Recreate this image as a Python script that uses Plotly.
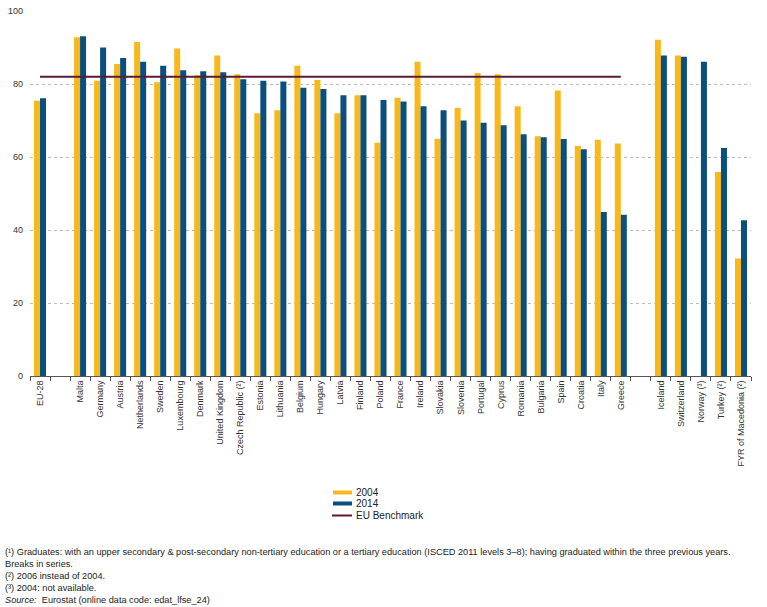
import plotly.graph_objects as go

categories = ["EU-28", " ", "Malta", "Germany", "Austria", "Netherlands", "Sweden", "Luxembourg",
              "Denmark", "United Kingdom", "Czech Republic (²)", "Estonia", "Lithuania", "Belgium",
              "Hungary", "Latvia", "Finland", "Poland", "France", "Ireland", "Slovakia", "Slovenia",
              "Portugal", "Cyprus", "Romania", "Bulgaria", "Spain", "Croatia", "Italy", "Greece",
              "  ", "Iceland", "Switzerland", "Norway (³)", "Turkey (²)", "FYR of Macedonia (²)"]

values_2004 = [75.4, None, 92.8, 80.9, 85.5, 91.5, 80.5, 89.7, 82.4, 87.8, 82.7, 72.0, 72.8, 85.0,
               81.1, 72.0, 76.9, 63.9, 76.2, 86.1, 65.0, 73.4, 83.0, 82.7, 73.9, 65.7, 78.2, 63.0,
               64.7, 63.7, None, 92.1, 87.8, None, 55.9, 32.2]

values_2014 = [76.1, None, 93.1, 90.0, 87.1, 86.1, 85.0, 83.8, 83.5, 83.2, 81.3, 80.9, 80.7, 79.0,
               78.6, 76.9, 76.9, 75.6, 75.2, 73.9, 72.8, 70.0, 69.4, 68.7, 66.2, 65.4, 64.9, 62.1,
               44.9, 44.2, None, 87.8, 87.5, 86.1, 62.5, 42.7]

benchmark_x = ["EU-28", "Greece"]
benchmark_y = [82, 82]

y_ticks = [0, 20, 40, 60, 80, 100]

legend_labels = ["2004", "2014", "EU Benchmark"]

footnotes = [
    "(¹) Graduates: with an upper secondary &amp; post-secondary non-tertiary education or a tertiary education (ISCED 2011 levels 3–8); having graduated within the three previous years.",
    "Breaks in series.",
    "(²) 2006 instead of 2004.",
    "(³) 2004: not available.",
    "<i>Source:</i>  Eurostat (online data code: edat_lfse_24)",
]

YELLOW = "#F9B81A"
BLUE = "#0B4F7E"
MAROON = "#5B1B36"
FONT = "Liberation Sans, Arial, sans-serif"

# plot area in pixels
PL, PR, PT, PB = 30, 751, 11, 376
W, H = 767, 607


def px_x(px):
    return (px - PL) / (PR - PL)


def px_y(py):
    return (PB - py) / (PB - PT)


fig = go.Figure()
fig.add_trace(go.Bar(x=categories, y=values_2004, name=legend_labels[0],
                     marker=dict(color=YELLOW, line=dict(width=0)), showlegend=False))
fig.add_trace(go.Bar(x=categories, y=values_2014, name=legend_labels[1],
                     marker=dict(color=BLUE, line=dict(width=0)), showlegend=False))
fig.add_trace(go.Scatter(x=benchmark_x, y=benchmark_y, name=legend_labels[2], mode="lines",
                         line=dict(color=MAROON, width=2), showlegend=False))

fig.update_layout(
    width=W, height=H,
    margin=dict(l=PL, r=W - PR, t=PT, b=H - PB, autoexpand=False),
    paper_bgcolor="white", plot_bgcolor="white",
    barmode="group", bargap=0.4, bargroupgap=0,
    font=dict(family=FONT, size=9, color="#333333"),
    showlegend=False,
    xaxis=dict(type="category", categoryorder="array", categoryarray=categories,
               tickangle=-90, tickson="boundaries", ticks="outside", ticklen=4,
               tickcolor="#555555", showline=True, linecolor="#555555", linewidth=1,
               showgrid=False, tickfont=dict(size=9, color="#333333"), automargin=False,
               range=[-0.5, len(categories) - 0.5]),
    yaxis=dict(range=[0, 100], tickvals=y_ticks, showgrid=True, gridcolor="#BBBBBB",
               griddash="dot", gridwidth=1, zeroline=False, showline=False, automargin=False,
               tickfont=dict(size=9, color="#333333"), ticks="", ticklabelstandoff=6),
)

# custom legend
leg_rows = [492.5, 503.5, 515.5]
sw_x0, sw_x1, text_x = 333, 352, 354
for i, (lab, col) in enumerate(zip(legend_labels, [YELLOW, BLUE, MAROON])):
    yc = leg_rows[i]
    if i < 2:
        fig.add_shape(type="rect", xref="paper", yref="paper",
                      x0=px_x(sw_x0), x1=px_x(sw_x1), y0=px_y(yc - 2), y1=px_y(yc + 2),
                      fillcolor=col, line=dict(width=0))
    else:
        fig.add_shape(type="line", xref="paper", yref="paper",
                      x0=px_x(sw_x0 - 1), x1=px_x(sw_x1), y0=px_y(yc), y1=px_y(yc),
                      line=dict(color=col, width=2))
    fig.add_annotation(text=lab, xref="paper", yref="paper", x=px_x(text_x), y=px_y(yc),
                       xanchor="left", yanchor="middle", showarrow=False,
                       font=dict(size=10, color="#222222", family=FONT))

for i, txt in enumerate(footnotes):
    fig.add_annotation(text=txt, xref="paper", yref="paper", x=px_x(3), y=px_y(552.3 + 12 * i),
                       xanchor="left", yanchor="middle", showarrow=False, align="left",
                       font=dict(size=9.2, color="#222222", family=FONT))

fig.write_html("out.html")
